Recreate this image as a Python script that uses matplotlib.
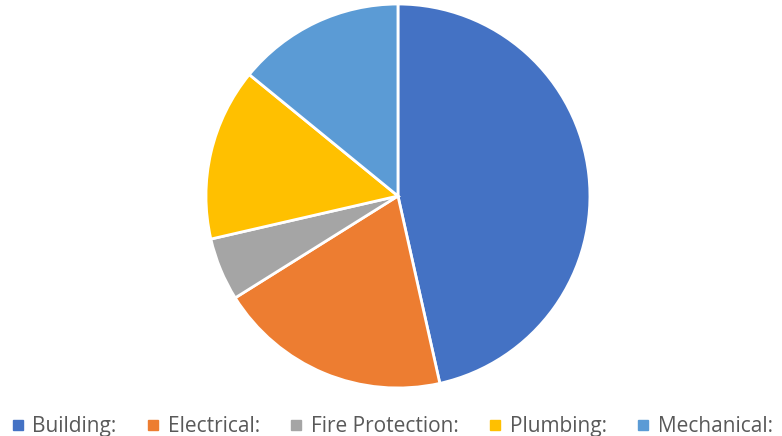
import matplotlib.pyplot as plt
from matplotlib.lines import Line2D

labels = ["Building:", "Electrical:", "Fire Protection:", "Plumbing:", "Mechanical:"]
values = [46.5, 19.6, 5.3, 14.5, 14.1]
colors = ["#4472C4", "#ED7D31", "#A5A5A5", "#FFC000", "#5B9BD5"]

plt.rcParams['font.family'] = ['Open Sans', 'DejaVu Sans']

fig = plt.figure(figsize=(7.82, 4.36), dpi=100)
ax = fig.add_axes([0.2634, 0.1101, 0.4910, 0.8807])
ax.pie(values, colors=colors, startangle=90, counterclock=False,
       wedgeprops=dict(edgecolor="white", linewidth=2))
ax.set_xlim(-1, 1)
ax.set_ylim(-1, 1)
ax.set_aspect("equal")
ax.axis("off")

handles = [Line2D([], [], marker="s", linestyle="", markersize=7,
                  markerfacecolor=c, markeredgecolor=c) for c in colors]
fig.legend(handles, labels, loc="lower center", ncol=5, frameon=False,
           bbox_to_anchor=(0.5, -0.045), fontsize=15, labelcolor="#595959",
           handletextpad=0.3, columnspacing=1.35, handlelength=0.8)

fig.savefig("out.png", dpi=100)
